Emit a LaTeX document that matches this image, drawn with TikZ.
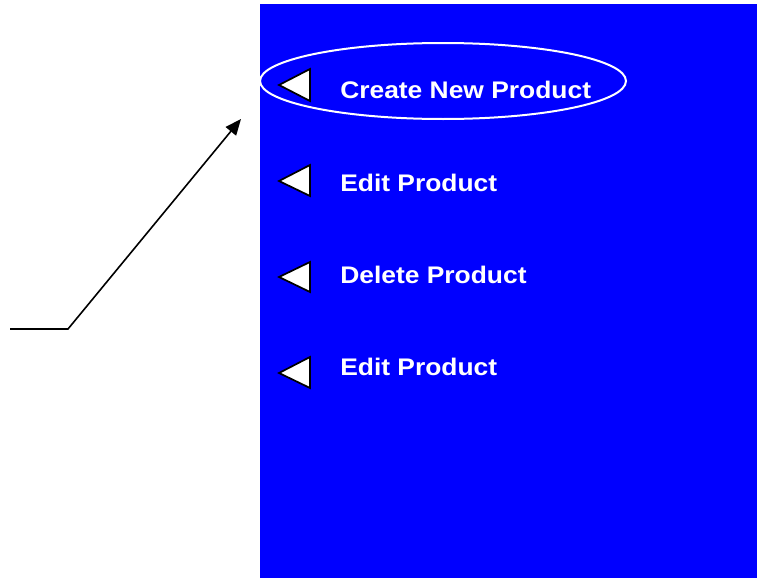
\documentclass[tikz,border=0pt]{standalone}
\usepackage{fontspec}
\setmainfont{Liberation Sans}
\newfontfamily\menufont[FakeStretch=1.1]{Liberation Sans}
\usetikzlibrary{arrows.meta}
\definecolor{panelblue}{RGB}{0,0,255}
\begin{document}
\begin{tikzpicture}[x=0.75pt,y=-0.75pt,
  menutext/.style={anchor=base west,inner sep=0pt,text=white,font=\menufont\fontsize{18}{20}\selectfont\bfseries},
  tri/.style={fill=white,draw=black,line width=1.3pt,line join=miter}]
\useasboundingbox (0,0) rectangle (757,578);
\fill[panelblue] (260,4) rectangle (757,578);
\draw[white,line width=1.5pt] (443,81) ellipse [x radius=183,y radius=38];
\node[menutext] (t1) at (340,98) {Create New Product};
\node[menutext] (t2) at (340,191) {Edit Product};
\node[menutext] (t3) at (340,283) {Delete Product};
\node[menutext] (t4) at (340,375) {Edit Product};
\draw[tri] (279,85) -- (310,69) -- (310,101) -- cycle;
\draw[tri] (279,181) -- (310,165) -- (310,196) -- cycle;
\draw[tri] (279,277) -- (310,262) -- (310,292) -- cycle;
\draw[tri] (279,373) -- (310,357) -- (310,388) -- cycle;
\coordinate (a0) at (10,329);
\coordinate (a1) at (68,329);
\coordinate (a2) at (241,119);
\draw[line width=1.2pt,-{Triangle[length=12pt,width=10pt]}] (a0) -- (a1) -- (a2);
\end{tikzpicture}
\end{document}
